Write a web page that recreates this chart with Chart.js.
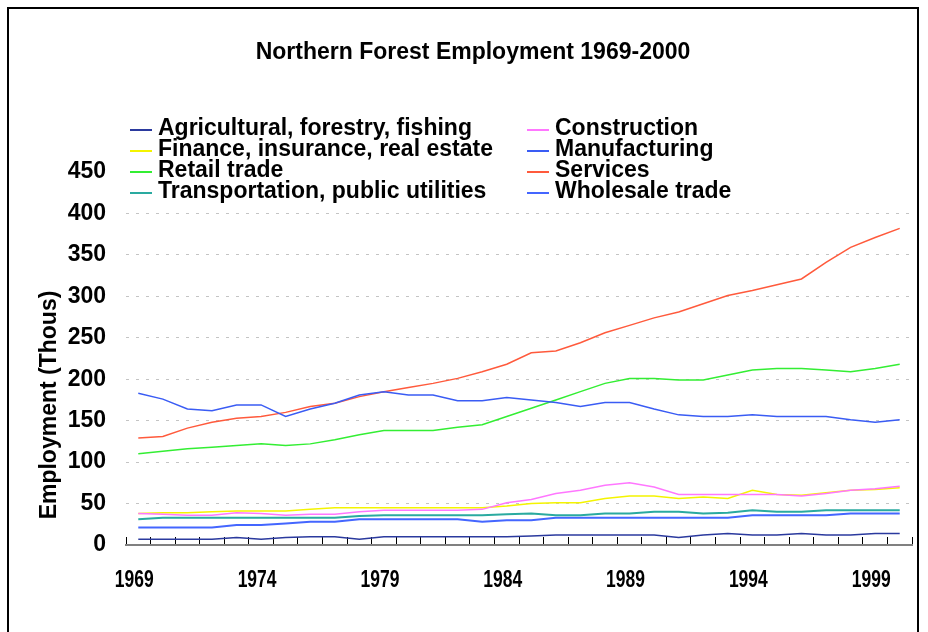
<!DOCTYPE html>
<html lang="en">
<head>
  <meta charset="UTF-8">
  <title>Northern Forest Employment 1969-2000</title>
  <script src="https://cdn.jsdelivr.net/npm/chart.js"></script>
  <style>
    body {
      margin: 0;
      background: #fff;
    }
    #wrap {
      width: 928px;
      height: 632px;
    }
  </style>
</head>
<body>
  <div id="wrap">
    <canvas id="empChart" width="928" height="632"></canvas>
  </div>

  <script>
    const years = [1969, 1970, 1971, 1972, 1973, 1974, 1975, 1976, 1977, 1978, 1979, 1980, 1981, 1982, 1983, 1984,
                   1985, 1986, 1987, 1988, 1989, 1990, 1991, 1992, 1993, 1994, 1995, 1996, 1997, 1998, 1999, 2000];
    const shownYears = [1969, 1974, 1979, 1984, 1989, 1994, 1999];
    const yTicks = [0, 50, 100, 150, 200, 250, 300, 350, 400, 450];

    // thousands of jobs
    const agriculture    = [7, 7, 7, 7, 9, 7, 9, 10, 10, 7, 10, 10, 10, 10, 10, 10, 11, 12, 12, 12, 12, 12, 9, 12, 14, 12, 12, 14, 12, 12, 14, 14];
    const construction   = [38, 37, 36, 36, 39, 38, 36, 37, 37, 40, 42, 42, 42, 42, 43, 51, 55, 62, 66, 72, 75, 70, 61, 61, 61, 61, 61, 59, 62, 66, 68, 71];
    const finance        = [38, 39, 39, 40, 41, 41, 41, 43, 45, 45, 45, 45, 45, 45, 45, 47, 50, 51, 51, 56, 59, 59, 56, 58, 56, 66, 61, 60, 63, 66, 67, 69];
    const manufacturing  = [183, 176, 164, 162, 169, 169, 155, 164, 171, 181, 185, 181, 181, 174, 174, 178, 175, 172, 167, 172, 172, 164, 157, 155, 155, 157, 155, 155, 155, 151, 148, 151];
    const retail         = [110, 113, 116, 118, 120, 122, 120, 122, 127, 133, 138, 138, 138, 142, 145, 155, 165, 175, 185, 195, 201, 201, 199, 199, 205, 211, 213, 213, 211, 209, 213, 218];
    const services       = [129, 131, 141, 148, 153, 155, 160, 167, 171, 179, 185, 190, 195, 201, 209, 218, 232, 234, 244, 256, 265, 274, 281, 291, 301, 307, 314, 321, 341, 359, 371, 382];
    const transportation = [31, 33, 33, 33, 33, 33, 33, 33, 33, 35, 36, 36, 36, 36, 36, 37, 38, 36, 36, 38, 38, 40, 40, 38, 39, 42, 40, 40, 42, 42, 42, 42];
    const wholesale      = [21, 21, 21, 21, 24, 24, 26, 28, 28, 31, 31, 31, 31, 31, 28, 30, 30, 33, 33, 33, 33, 33, 33, 33, 33, 36, 36, 36, 36, 38, 38, 38];

    const FONT = "'Liberation Sans', Arial, sans-serif";

    function line(label, data, color, width) {
      return {
        label: label,
        data: data,
        borderColor: color,
        backgroundColor: color,
        borderWidth: width || 1.5,
        pointRadius: 0,
        tension: 0,
        fill: false
      };
    }

    // two column legend, title, y title, condensed year labels and the outer frame
    const decorations = {
      id: 'decorations',
      beforeDraw(chart) {
        const ctx = chart.ctx;
        ctx.save();
        ctx.fillStyle = '#fff';
        ctx.fillRect(0, 0, chart.width, chart.height);
        ctx.strokeStyle = '#000';
        ctx.lineWidth = 2;
        ctx.strokeRect(8, 8, 910, 700);
        ctx.restore();
      },
      afterDraw(chart) {
        const ctx = chart.ctx;
        ctx.save();
        ctx.fillStyle = '#000';
        ctx.textBaseline = 'middle';

        ctx.font = 'bold 23px ' + FONT;
        ctx.textAlign = 'center';
        ctx.fillText('Northern Forest Employment 1969-2000', 473, 53);

        ctx.font = 'bold 23px ' + FONT;
        ctx.textAlign = 'left';
        chart.data.datasets.forEach((ds, i) => {
          const x = i % 2 === 0 ? 130 : 527;
          const y = 129 + Math.floor(i / 2) * 21;
          ctx.strokeStyle = ds.borderColor;
          ctx.lineWidth = 2;
          ctx.beginPath();
          ctx.moveTo(x, y + 1);
          ctx.lineTo(x + 22, y + 1);
          ctx.stroke();
          ctx.fillText(ds.label, x + 28, y);
        });

        // year labels, squeezed like the original narrow font
        const xs = chart.scales.x;
        ctx.textAlign = 'center';
        ctx.font = 'bold 23px ' + FONT;
        years.forEach((yr, i) => {
          if (!shownYears.includes(yr)) return;
          ctx.save();
          ctx.translate(xs.getPixelForValue(i) - 4, xs.top + 36);
          ctx.scale(0.76, 1);
          ctx.fillText(String(yr), 0, 0);
          ctx.restore();
        });

        ctx.translate(50, 405);
        ctx.rotate(-Math.PI / 2);
        ctx.textAlign = 'center';
        ctx.font = 'bold 23px ' + FONT;
        ctx.fillText('Employment (Thous)', 0, 0);
        ctx.restore();
      }
    };

    new Chart(document.getElementById('empChart'), {
      type: 'line',
      data: {
        labels: years,
        datasets: [
          line('Agricultural, forestry, fishing', agriculture, '#2b3a9e'),
          line('Construction', construction, '#ff77ff'),
          line('Finance, insurance, real estate', finance, '#f4f400'),
          line('Manufacturing', manufacturing, '#3a5cf4'),
          line('Retail trade', retail, '#33ee33'),
          line('Services', services, '#ff5a3c'),
          line('Transportation, public utilities', transportation, '#2aaaa0', 2),
          line('Wholesale trade', wholesale, '#4466ff', 2)
        ]
      },
      options: {
        responsive: false,
        animation: false,
        layout: { padding: { left: 0, right: 16, top: 172, bottom: 0 } },
        plugins: {
          legend: { display: false },
          title: { display: false },
          tooltip: { enabled: false }
        },
        scales: {
          x: {
            type: 'category',
            offset: true,
            afterFit: (scale) => { scale.height = 87; },
            grid: {
              display: true,
              offset: true,
              drawOnChartArea: false,
              drawTicks: true,
              tickLength: -8,
              color: '#000',
              tickColor: '#000',
              lineWidth: 1
            },
            border: { display: true, color: '#808080', width: 2 },
            ticks: {
              autoSkip: false,
              maxRotation: 0,
              color: 'rgba(0,0,0,0)',
              callback: () => ''
            }
          },
          y: {
            min: yTicks[0],
            max: yTicks[yTicks.length - 1],
            afterFit: (scale) => { scale.width = 126; },
            afterBuildTicks: (scale) => { scale.ticks = yTicks.map(v => ({ value: v })); },
            grid: {
              drawTicks: false,
              lineWidth: 1,
              color: (c) => (c.tick && (c.tick.value === 0 || c.tick.value === 450)) ? 'rgba(0,0,0,0)' : '#c4c4c4'
            },
            border: { display: false, dash: [3, 7] },
            ticks: {
              padding: 20,
              color: '#000',
              font: { family: FONT, size: 23, weight: 'bold' }
            }
          }
        }
      },
      plugins: [decorations]
    });
  </script>
</body>
</html>
